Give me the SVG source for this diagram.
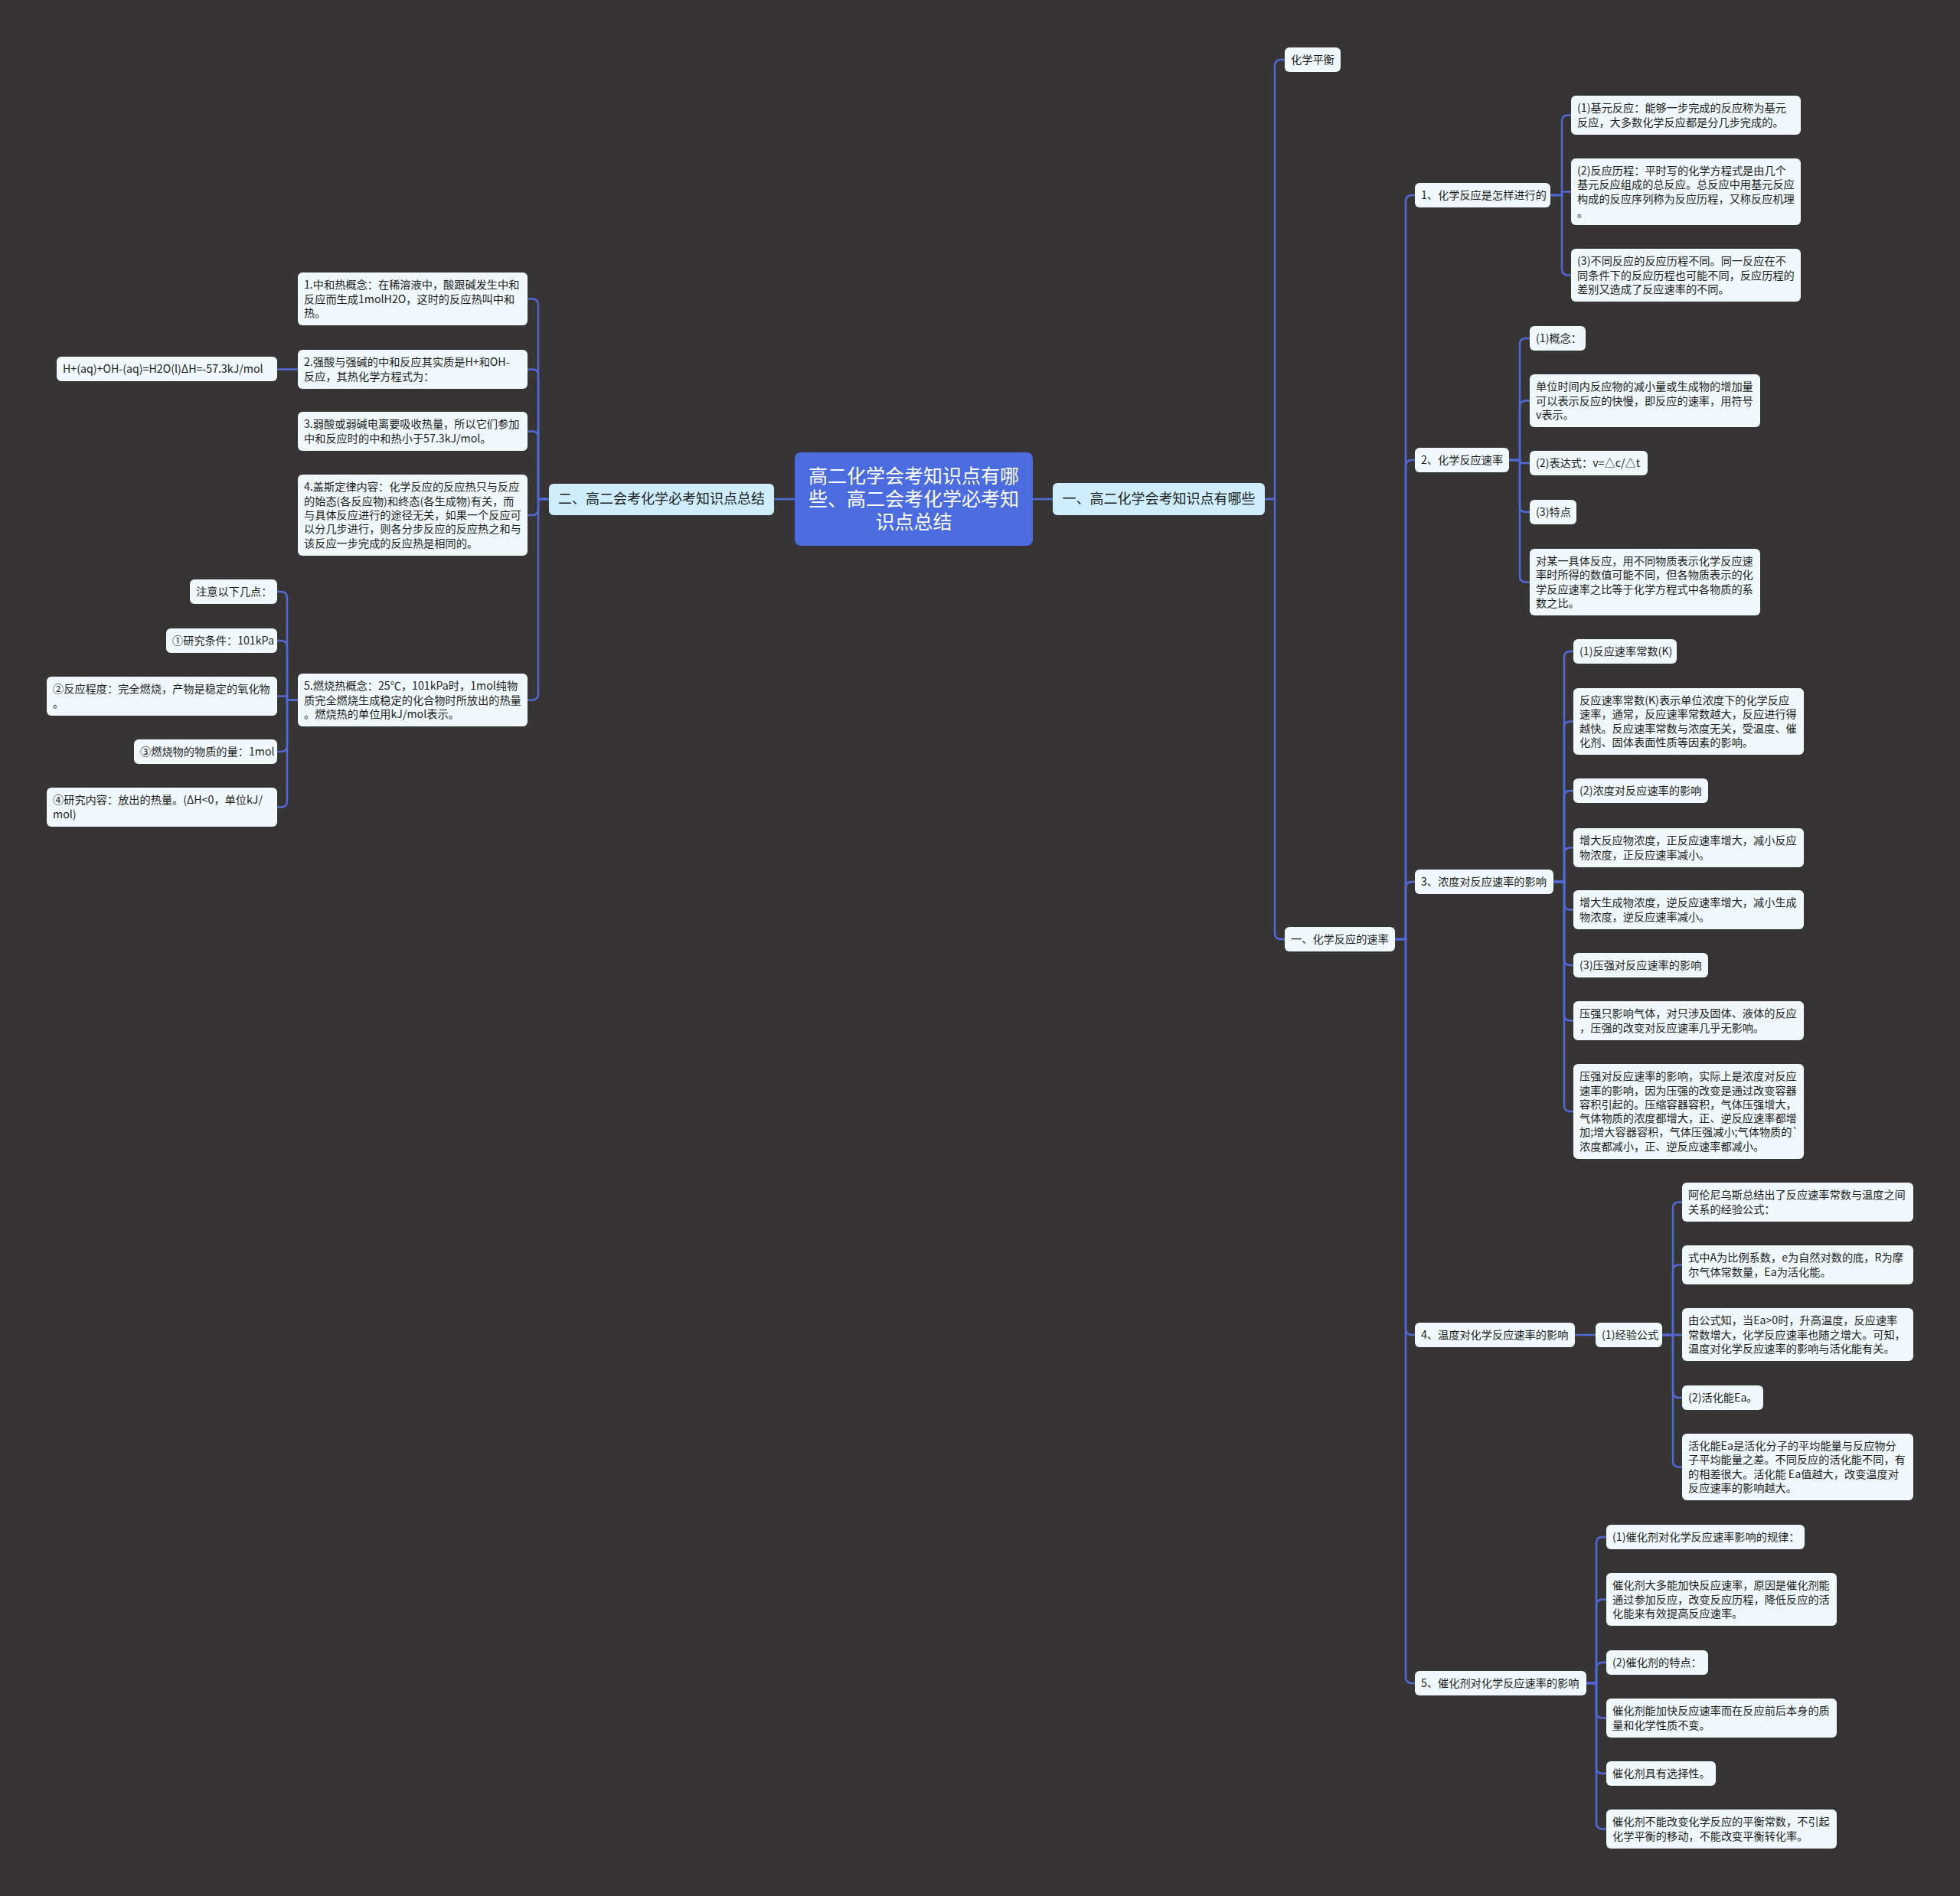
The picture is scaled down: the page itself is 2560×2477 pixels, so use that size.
<svg xmlns="http://www.w3.org/2000/svg" width="2560" height="2477" viewBox="0 0 2560 2477">
<style>
.n{fill:#eff9fb;}
.b{fill:#cdeefa;}
.t{font-family:"Noto Sans CJK SC","Noto Sans",sans-serif;font-size:14.2px;fill:#1c1c1c;}
.bt{font-family:"Noto Sans CJK SC","Noto Sans",sans-serif;font-size:18px;fill:#1c1c1c;}
.ct{font-family:"Noto Sans CJK SC","Noto Sans",sans-serif;font-size:25px;fill:#ffffff;}
.c path{fill:none;stroke:#5069d6;stroke-width:2.5;}
</style>
<rect x="0" y="0" width="2560" height="2477" fill="#363435"/>
<g class="c" id="connectors">
<path d="M1349 652H1375"/>
<path d="M1038 652H1011"/>
<path d="M1652 652H1665V86Q1665 78 1673 78H1678"/>
<path d="M1652 652H1665V1219Q1665 1227 1673 1227H1678"/>
<path d="M1822 1227H1836V263Q1836 255 1844 255H1848"/>
<path d="M1822 1227H1836V609Q1836 601 1844 601H1848"/>
<path d="M1822 1227H1836V1160Q1836 1152 1844 1152H1848"/>
<path d="M1822 1227H1836V1736Q1836 1744 1844 1744H1848"/>
<path d="M1822 1227H1836V2191Q1836 2199 1844 2199H1848"/>
<path d="M2025 255H2040V158.5Q2040 150.5 2048 150.5H2052"/>
<path d="M2025 255H2040V250.5H2052"/>
<path d="M2025 255H2040V351.5Q2040 359.5 2048 359.5H2052"/>
<path d="M1971 601H1985V450Q1985 442 1993 442H1998"/>
<path d="M1971 601H1985V531.5Q1985 523.5 1993 523.5H1998"/>
<path d="M1971 601H1985V605H1998"/>
<path d="M1971 601H1985V661Q1985 669 1993 669H1998"/>
<path d="M1971 601H1985V752.5Q1985 760.5 1993 760.5H1998"/>
<path d="M2029 1152H2043V859Q2043 851 2051 851H2055"/>
<path d="M2029 1152H2043V950.5Q2043 942.5 2051 942.5H2055"/>
<path d="M2029 1152H2043V1041Q2043 1033 2051 1033H2055"/>
<path d="M2029 1152H2043V1115.5Q2043 1107.5 2051 1107.5H2055"/>
<path d="M2029 1152H2043V1180.5Q2043 1188.5 2051 1188.5H2055"/>
<path d="M2029 1152H2043V1253Q2043 1261 2051 1261H2055"/>
<path d="M2029 1152H2043V1325.5Q2043 1333.5 2051 1333.5H2055"/>
<path d="M2029 1152H2043V1444Q2043 1452 2051 1452H2055"/>
<path d="M2057 1744H2084"/>
<path d="M2171 1744H2185V1578.5Q2185 1570.5 2193 1570.5H2197"/>
<path d="M2171 1744H2185V1660.5Q2185 1652.5 2193 1652.5H2197"/>
<path d="M2171 1744H2197"/>
<path d="M2171 1744H2185V1818Q2185 1826 2193 1826H2197"/>
<path d="M2171 1744H2185V1908.5Q2185 1916.5 2193 1916.5H2197"/>
<path d="M2072 2199H2085V2016Q2085 2008 2093 2008H2098"/>
<path d="M2072 2199H2085V2097.5Q2085 2089.5 2093 2089.5H2098"/>
<path d="M2072 2199H2085V2180Q2085 2172 2093 2172H2098"/>
<path d="M2072 2199H2085V2236.5Q2085 2244.5 2093 2244.5H2098"/>
<path d="M2072 2199H2085V2309Q2085 2317 2093 2317H2098"/>
<path d="M2072 2199H2085V2381.5Q2085 2389.5 2093 2389.5H2098"/>
<path d="M717 652H703V398.5Q703 390.5 695 390.5H689"/>
<path d="M717 652H703V490.5Q703 482.5 695 482.5H689"/>
<path d="M717 652H703V571.5Q703 563.5 695 563.5H689"/>
<path d="M717 652H703V665Q703 673 695 673H689"/>
<path d="M717 652H703V906.5Q703 914.5 695 914.5H689"/>
<path d="M389 482.5H362"/>
<path d="M389 914.5H375V781Q375 773 367 773H362"/>
<path d="M389 914.5H375V845Q375 837 367 837H362"/>
<path d="M389 914.5H375V909.5H362"/>
<path d="M389 914.5H375V974Q375 982 367 982H362"/>
<path d="M389 914.5H375V1046.5Q375 1054.5 367 1054.5H362"/>
</g>

<g id="root"><rect x="1038" y="591" width="311" height="122" rx="8" fill="#4a6cdf"/>
<text class="ct" x="1193.5" y="631" text-anchor="middle">高二化学会考知识点有哪<tspan x="1193.5" dy="30">些、高二会考化学必考知</tspan><tspan x="1193.5" dy="30">识点总结</tspan></text></g>

<g id="b1"><rect class="b" x="1375" y="631" width="277" height="42" rx="6"/><text class="bt" x="1513.5" y="658" text-anchor="middle">一、高二化学会考知识点有哪些</text></g>
<g id="b2"><rect class="b" x="717" y="632" width="294" height="41" rx="6"/><text class="bt" x="864" y="658" text-anchor="middle">二、高二会考化学必考知识点总结</text></g>

<g id="r1"><rect class="n" x="1678" y="62" width="73" height="32" rx="6"/><text class="t" x="1686" y="83">化学平衡</text></g>
<g id="r2"><rect class="n" x="1678" y="1211" width="144" height="32" rx="6"/><text class="t" x="1686" y="1232">一、化学反应的速率</text></g>

<g id="s1"><rect class="n" x="1848" y="239" width="177" height="32" rx="6"/><text class="t" x="1856" y="260">1、化学反应是怎样进行的</text></g>
<g id="s2"><rect class="n" x="1848" y="585" width="123" height="32" rx="6"/><text class="t" x="1856" y="606">2、化学反应速率</text></g>
<g id="s3"><rect class="n" x="1848" y="1136" width="181" height="32" rx="6"/><text class="t" x="1856" y="1157">3、浓度对反应速率的影响</text></g>
<g id="s4"><rect class="n" x="1848" y="1728" width="209" height="32" rx="6"/><text class="t" x="1856" y="1749">4、温度对化学反应速率的影响</text></g>
<g id="s5"><rect class="n" x="1848" y="2183" width="224" height="32" rx="6"/><text class="t" x="1856" y="2204">5、催化剂对化学反应速率的影响</text></g>

<g id="s1a"><rect class="n" x="2052" y="125" width="300" height="51" rx="6"/><text class="t" x="2060" y="146.4">(1)基元反应：能够一步完成的反应称为基元<tspan x="2060" dy="18.3">反应，大多数化学反应都是分几步完成的。</tspan></text></g>
<g id="s1b"><rect class="n" x="2052" y="207" width="300" height="87" rx="6"/><text class="t" x="2060" y="228.05">(2)反应历程：平时写的化学方程式是由几个<tspan x="2060" dy="18.3">基元反应组成的总反应。总反应中用基元反应</tspan><tspan x="2060" dy="18.3">构成的反应序列称为反应历程，又称反应机理</tspan><tspan x="2060" dy="18.3">。</tspan></text></g>
<g id="s1c"><rect class="n" x="2052" y="325" width="300" height="69" rx="6"/><text class="t" x="2060" y="346.2">(3)不同反应的反应历程不同。同一反应在不<tspan x="2060" dy="18.3">同条件下的反应历程也可能不同，反应历程的</tspan><tspan x="2060" dy="18.3">差别又造成了反应速率的不同。</tspan></text></g>

<g id="s2a"><rect class="n" x="1998" y="426" width="73" height="32" rx="6"/><text class="t" x="2006" y="447">(1)概念：</text></g>
<g id="s2b"><rect class="n" x="1998" y="489" width="301" height="69" rx="6"/><text class="t" x="2006" y="510.2">单位时间内反应物的减小量或生成物的增加量<tspan x="2006" dy="18.3">可以表示反应的快慢，即反应的速率，用符号</tspan><tspan x="2006" dy="18.3">v表示。</tspan></text></g>
<g id="s2c"><rect class="n" x="1998" y="589" width="154" height="32" rx="6"/><text class="t" x="2006" y="610">(2)表达式：v=△c/△t</text></g>
<g id="s2d"><rect class="n" x="1998" y="653" width="61" height="32" rx="6"/><text class="t" x="2006" y="674">(3)特点</text></g>
<g id="s2e"><rect class="n" x="1998" y="717" width="301" height="87" rx="6"/><text class="t" x="2006" y="738.05">对某一具体反应，用不同物质表示化学反应速<tspan x="2006" dy="18.3">率时所得的数值可能不同，但各物质表示的化</tspan><tspan x="2006" dy="18.3">学反应速率之比等于化学方程式中各物质的系</tspan><tspan x="2006" dy="18.3">数之比。</tspan></text></g>

<g id="s3a"><rect class="n" x="2055" y="835" width="135" height="32" rx="6"/><text class="t" x="2063" y="856">(1)反应速率常数(K)</text></g>
<g id="s3b"><rect class="n" x="2055" y="899" width="301" height="87" rx="6"/><text class="t" x="2063" y="920.05">反应速率常数(K)表示单位浓度下的化学反应<tspan x="2063" dy="18.3">速率，通常，反应速率常数越大，反应进行得</tspan><tspan x="2063" dy="18.3">越快。反应速率常数与浓度无关，受温度、催</tspan><tspan x="2063" dy="18.3">化剂、固体表面性质等因素的影响。</tspan></text></g>
<g id="s3c"><rect class="n" x="2055" y="1017" width="176" height="32" rx="6"/><text class="t" x="2063" y="1038">(2)浓度对反应速率的影响</text></g>
<g id="s3d"><rect class="n" x="2055" y="1082" width="301" height="51" rx="6"/><text class="t" x="2063" y="1103.35">增大反应物浓度，正反应速率增大，减小反应<tspan x="2063" dy="18.3">物浓度，正反应速率减小。</tspan></text></g>
<g id="s3e"><rect class="n" x="2055" y="1163" width="301" height="51" rx="6"/><text class="t" x="2063" y="1184.35">增大生成物浓度，逆反应速率增大，减小生成<tspan x="2063" dy="18.3">物浓度，逆反应速率减小。</tspan></text></g>
<g id="s3f"><rect class="n" x="2055" y="1245" width="176" height="32" rx="6"/><text class="t" x="2063" y="1266">(3)压强对反应速率的影响</text></g>
<g id="s3g"><rect class="n" x="2055" y="1308" width="301" height="51" rx="6"/><text class="t" x="2063" y="1329.35">压强只影响气体，对只涉及固体、液体的反应<tspan x="2063" dy="18.3">，压强的改变对反应速率几乎无影响。</tspan></text></g>
<g id="s3h"><rect class="n" x="2055" y="1390" width="301" height="124" rx="6"/><text class="t" x="2063" y="1411.25">压强对反应速率的影响，实际上是浓度对反应<tspan x="2063" dy="18.3">速率的影响，因为压强的改变是通过改变容器</tspan><tspan x="2063" dy="18.3">容积引起的。压缩容器容积，气体压强增大，</tspan><tspan x="2063" dy="18.3">气体物质的浓度都增大，正、逆反应速率都增</tspan><tspan x="2063" dy="18.3">加;增大容器容积，气体压强减小;气体物质的`</tspan><tspan x="2063" dy="18.3">浓度都减小，正、逆反应速率都减小。</tspan></text></g>

<g id="s4a"><rect class="n" x="2084" y="1728" width="87" height="32" rx="6"/><text class="t" x="2092" y="1749">(1)经验公式</text></g>
<g id="s4b"><rect class="n" x="2197" y="1545" width="302" height="51" rx="6"/><text class="t" x="2205" y="1566.35">阿伦尼乌斯总结出了反应速率常数与温度之间<tspan x="2205" dy="18.3">关系的经验公式：</tspan></text></g>
<g id="s4c"><rect class="n" x="2197" y="1627" width="302" height="51" rx="6"/><text class="t" x="2205" y="1648.35">式中A为比例系数，e为自然对数的底，R为摩<tspan x="2205" dy="18.3">尔气体常数量，Ea为活化能。</tspan></text></g>
<g id="s4d"><rect class="n" x="2197" y="1709" width="302" height="69" rx="6"/><text class="t" x="2205" y="1730.2">由公式知，当Ea&gt;0时，升高温度，反应速率<tspan x="2205" dy="18.3">常数增大，化学反应速率也随之增大。可知，</tspan><tspan x="2205" dy="18.3">温度对化学反应速率的影响与活化能有关。</tspan></text></g>
<g id="s4e"><rect class="n" x="2197" y="1810" width="106" height="32" rx="6"/><text class="t" x="2205" y="1831">(2)活化能Ea。</text></g>
<g id="s4f"><rect class="n" x="2197" y="1873" width="302" height="87" rx="6"/><text class="t" x="2205" y="1894.05">活化能Ea是活化分子的平均能量与反应物分<tspan x="2205" dy="18.3">子平均能量之差。不同反应的活化能不同，有</tspan><tspan x="2205" dy="18.3">的相差很大。活化能 Ea值越大，改变温度对</tspan><tspan x="2205" dy="18.3">反应速率的影响越大。</tspan></text></g>

<g id="s5a"><rect class="n" x="2098" y="1992" width="259" height="32" rx="6"/><text class="t" x="2106" y="2013">(1)催化剂对化学反应速率影响的规律：</text></g>
<g id="s5b"><rect class="n" x="2098" y="2055" width="301" height="69" rx="6"/><text class="t" x="2106" y="2076.2">催化剂大多能加快反应速率，原因是催化剂能<tspan x="2106" dy="18.3">通过参加反应，改变反应历程，降低反应的活</tspan><tspan x="2106" dy="18.3">化能来有效提高反应速率。</tspan></text></g>
<g id="s5c"><rect class="n" x="2098" y="2156" width="133" height="32" rx="6"/><text class="t" x="2106" y="2177">(2)催化剂的特点：</text></g>
<g id="s5d"><rect class="n" x="2098" y="2219" width="301" height="51" rx="6"/><text class="t" x="2106" y="2240.35">催化剂能加快反应速率而在反应前后本身的质<tspan x="2106" dy="18.3">量和化学性质不变。</tspan></text></g>
<g id="s5e"><rect class="n" x="2098" y="2301" width="143" height="32" rx="6"/><text class="t" x="2106" y="2322">催化剂具有选择性。</text></g>
<g id="s5f"><rect class="n" x="2098" y="2364" width="301" height="51" rx="6"/><text class="t" x="2106" y="2385.35">催化剂不能改变化学反应的平衡常数，不引起<tspan x="2106" dy="18.3">化学平衡的移动，不能改变平衡转化率。</tspan></text></g>

<g id="l1"><rect class="n" x="389" y="356" width="300" height="69" rx="6"/><text class="t" x="397" y="377.2">1.中和热概念：在稀溶液中，酸跟碱发生中和<tspan x="397" dy="18.3">反应而生成1molH2O，这时的反应热叫中和</tspan><tspan x="397" dy="18.3">热。</tspan></text></g>
<g id="l2"><rect class="n" x="389" y="457" width="300" height="51" rx="6"/><text class="t" x="397" y="478.35">2.强酸与强碱的中和反应其实质是H+和OH-<tspan x="397" dy="18.3">反应，其热化学方程式为：</tspan></text></g>
<g id="l3"><rect class="n" x="389" y="538" width="300" height="51" rx="6"/><text class="t" x="397" y="559.35">3.弱酸或弱碱电离要吸收热量，所以它们参加<tspan x="397" dy="18.3">中和反应时的中和热小于57.3kJ/mol。</tspan></text></g>
<g id="l4"><rect class="n" x="389" y="620" width="300" height="106" rx="6"/><text class="t" x="397" y="641.4">4.盖斯定律内容：化学反应的反应热只与反应<tspan x="397" dy="18.3">的始态(各反应物)和终态(各生成物)有关，而</tspan><tspan x="397" dy="18.3">与具体反应进行的途径无关，如果一个反应可</tspan><tspan x="397" dy="18.3">以分几步进行，则各分步反应的反应热之和与</tspan><tspan x="397" dy="18.3">该反应一步完成的反应热是相同的。</tspan></text></g>
<g id="l5"><rect class="n" x="389" y="880" width="300" height="69" rx="6"/><text class="t" x="397" y="901.2">5.燃烧热概念：25℃，101kPa时，1mol纯物<tspan x="397" dy="18.3">质完全燃烧生成稳定的化合物时所放出的热量</tspan><tspan x="397" dy="18.3">。燃烧热的单位用kJ/mol表示。</tspan></text></g>
<g id="l2a"><rect class="n" x="74" y="466" width="288" height="32" rx="6"/><text class="t" x="82" y="487">H+(aq)+OH-(aq)=H2O(l)ΔH=-57.3kJ/mol</text></g>
<g id="l5a"><rect class="n" x="248" y="757" width="114" height="32" rx="6"/><text class="t" x="256" y="778">注意以下几点：</text></g>
<g id="l5b"><rect class="n" x="217" y="821" width="145" height="32" rx="6"/><text class="t" x="225" y="842">①研究条件：101kPa</text></g>
<g id="l5c"><rect class="n" x="61" y="884" width="301" height="51" rx="6"/><text class="t" x="69" y="905.35">②反应程度：完全燃烧，产物是稳定的氧化物<tspan x="69" dy="18.3">。</tspan></text></g>
<g id="l5d"><rect class="n" x="175" y="966" width="187" height="32" rx="6"/><text class="t" x="183" y="987">③燃烧物的物质的量：1mol</text></g>
<g id="l5e"><rect class="n" x="61" y="1029" width="301" height="51" rx="6"/><text class="t" x="69" y="1050.35">④研究内容：放出的热量。(ΔH&lt;0，单位kJ/<tspan x="69" dy="18.3">mol)</tspan></text></g>
</svg>
